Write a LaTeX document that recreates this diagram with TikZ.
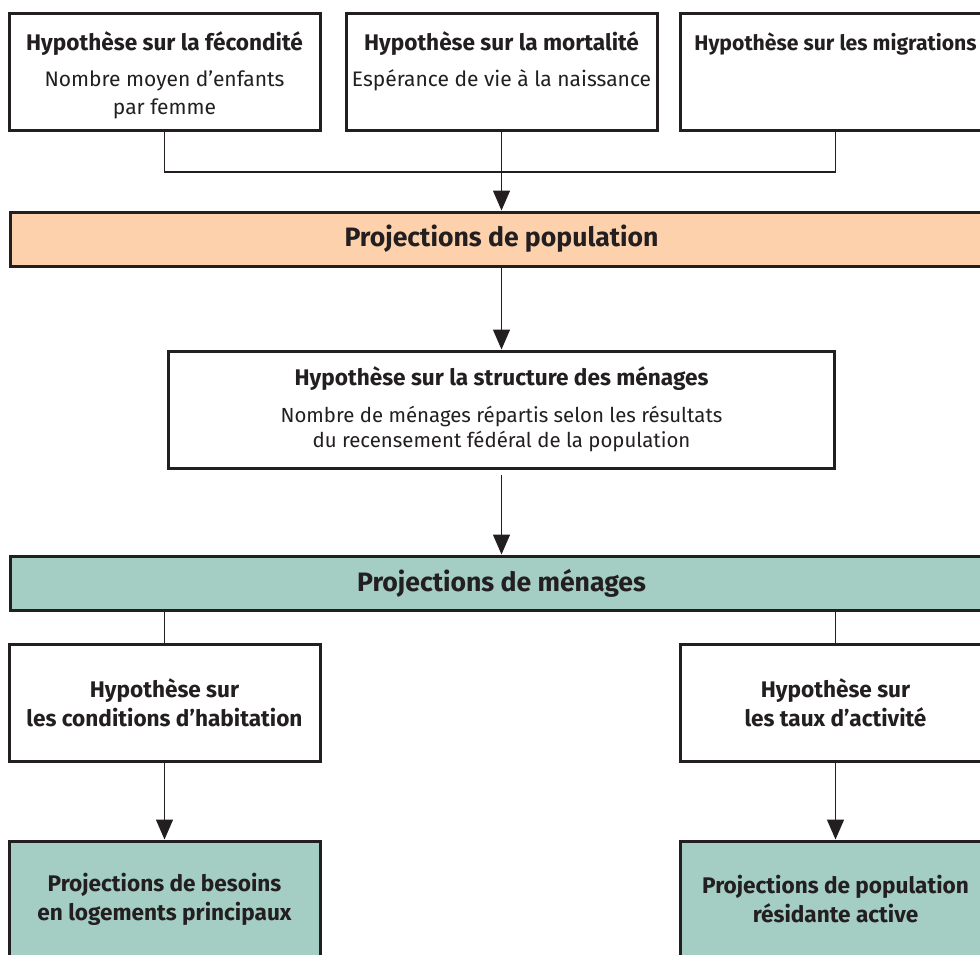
\documentclass[tikz,border=0pt]{standalone}
\usepackage{fontspec}
\setmainfont{Fira Sans}
\usetikzlibrary{positioning}
\usetikzlibrary{arrows.meta}
\definecolor{ink}{HTML}{231F20}
\definecolor{peach}{HTML}{FCD1AC}
\definecolor{sea}{HTML}{A4CDC3}
\newcommand{\subfont}{\mdseries\fontsize{10.5}{14}\selectfont}
\tikzset{hyp/.style={rectangle,draw=ink,line width=1.5pt,fill=white,minimum width=155.5pt,minimum height=58.5pt,inner sep=0pt,align=center,text=ink,font=\bfseries\fontsize{11.3}{14.5}\selectfont}}
\tikzset{bar/.style={rectangle,draw=ink,line width=1.5pt,minimum width=491pt,minimum height=27pt,inner sep=0pt,text=ink,font=\bfseries\fontsize{13.3}{16}\selectfont}}
\tikzset{txt/.style={align=center,inner sep=0pt,text=ink,font=\fontsize{10.5}{14}\selectfont}}
\tikzset{link/.style={draw=ink,line width=0.7pt}}
\tikzset{flow/.style={draw=ink,line width=0.7pt,-{Triangle[width=8.5pt,length=10pt]}}}

\begin{document}
\begin{tikzpicture}[x=0.5pt,y=0.5pt]
\useasboundingbox (0,0) rectangle (980,-954);

% hypotheses on the three components
\node[hyp] (fec) at (164.5,-71.5) {};
\node[hyp] (mort) at (501.5,-71.5) {};
\node[hyp] (mig) at (835.5,-71.5) {};
\node[txt,below=10pt of fec.north] (fectxt) {{\bfseries\fontsize{11.3}{14}\selectfont Hypothèse sur la fécondité}\\[4pt] Nombre moyen d’enfants\\ par femme};
\node[txt,below=10pt of mort.north] (morttxt) {{\bfseries\fontsize{11.3}{14}\selectfont Hypothèse sur la mortalité}\\[4pt] Espérance de vie à la naissance};
\node[txt,below=10.3pt of mig.north] (migtxt) {{\bfseries\fontsize{10.6}{14}\selectfont Hypothèse sur les migrations}};

\coordinate (join) at (501.5,-172);
\draw[link] (fec.south) |- (join) -| (mig.south);

% population
\node[bar,fill=peach] (pop) at (501.5,-239) {Projections de population};
\draw[flow] (mort.south) -- (mort.south |- pop.north);

\node[hyp,minimum width=333pt] (struct) at (501.5,-409.5) {Hypothèse sur la structure des ménages\\[4pt]
  \subfont\fontsize{10.2}{12.5}\selectfont Nombre de ménages répartis selon les résultats\\[-2pt]
  \subfont\fontsize{10.2}{12.5}\selectfont du recensement fédéral de la population};
\draw[flow] (struct.north |- pop.south) -- (struct.north);

% households
\node[bar,fill=sea] (men) at (501.5,-583) {Projections de ménages};
\draw[flow,shorten <=2.5pt] (struct.south) -- (struct.south |- men.north);

\node[hyp] (hab) at (164.5,-702.5) {Hypothèse sur\\ les conditions d’habitation};
\node[hyp] (act) at (835.5,-702.5) {Hypothèse sur\\ les taux d’activité};
\draw[link] (hab.north |- men.south) -- (hab.north);
\draw[link] (act.north |- men.south) -- (act.north);

\node[hyp,fill=sea] (loge) at (164.5,-899.5) {Projections de besoins\\ en logements principaux};
\node[hyp,fill=sea] (actpop) at (835.5,-899.5) {Projections de population\\ résidante active};
\draw[flow] (hab.south) -- (loge.north);
\draw[flow] (act.south) -- (actpop.north);

\end{tikzpicture}
\end{document}
